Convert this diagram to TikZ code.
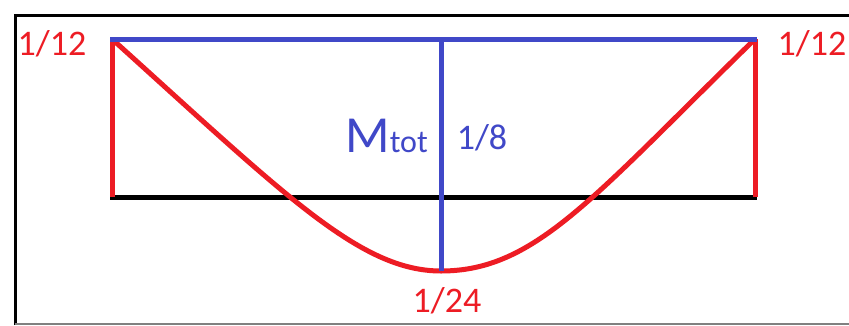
\documentclass[tikz,border=0pt]{standalone}
\usepackage{fontspec}
\setmainfont{Carlito}
\definecolor{myred}{RGB}{237,28,36}
\definecolor{myblue}{RGB}{64,72,200}
\begin{document}
\begin{tikzpicture}[x=1pt,y=-1pt,
  redline/.style={draw=myred,line width=5pt},
  blueline/.style={draw=myblue,line width=5pt},
  blackline/.style={draw=black,line width=5pt},
  redlab/.style={text=myred,inner sep=0pt,font=\fontsize{36}{36}\selectfont},
  bluelab/.style={text=myblue,inner sep=0pt,font=\fontsize{36}{36}\selectfont}]
\useasboundingbox (0,0) rectangle (849,325);
\fill[white] (0,0) rectangle (849,325);
% frame
\draw[black,line width=3pt] (15,325) -- (15,15) -- (849,15);
\draw[gray,line width=1.5pt] (15,324) -- (849,324);
% coordinates
\coordinate (TL) at (112,39);
\coordinate (TR) at (755,39);
\coordinate (BL) at (112,197);
\coordinate (BR) at (755,197);
\coordinate (TM) at (441,39);
\coordinate (BM) at (441,271);
% black base line
\draw[blackline] (110,197) -- (757,197);
% red verticals
\draw[redline] (TL) -- (BL);
\draw[redline] (TR) -- (BR);
% red curve
\draw[redline,line join=round] (TL) .. controls (285,195) and (360,271) .. (BM)
   .. controls (535,271) and (592,198) .. (TR);
% blue lines
\draw[blueline] (110,39) -- (757,39);
\draw[blueline] (TM) -- (BM);
% labels
\node[redlab] (l1) at (52,44) {1/12};
\node[redlab] (l2) at (812,44) {1/12};
\node[redlab] (l3) at (447,301) {1/24};
\node[bluelab] (l4) at (482,138) {1/8};
\node[text=myblue,inner sep=0pt,anchor=base east] (l5) at (428,152) {\fontsize{52}{52}\selectfont M\fontsize{32}{32}\selectfont tot};
\end{tikzpicture}
\end{document}
